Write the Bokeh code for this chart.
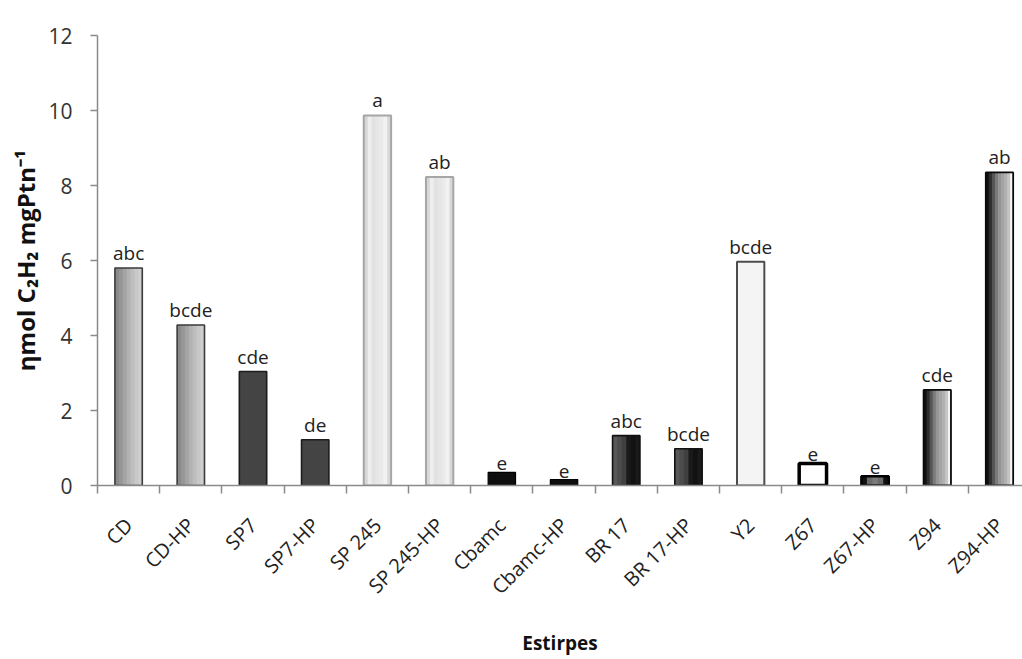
import math
from bokeh.plotting import figure
from bokeh.models import Range1d, FixedTicker, ColumnDataSource
from bokeh.transform import dodge
from bokeh.core.properties import value
from bokeh.embed import file_html
from bokeh.resources import INLINE

# ---- data ----
strains = ["CD", "CD-HP", "SP7", "SP7-HP", "SP 245", "SP 245-HP", "Cbamc", "Cbamc-HP",
           "BR 17", "BR 17-HP", "Y2", "Z67", "Z67-HP", "Z94", "Z94-HP"]
activity = [5.80, 4.28, 3.04, 1.22, 9.87, 8.23, 0.35, 0.16, 1.33, 0.98, 5.97, 0.59, 0.25, 2.55, 8.35]
letters = ["abc", "bcde", "cde", "de", "a", "ab", "e", "e", "abc", "bcde", "bcde", "e", "e", "cde", "ab"]
y_ticks = [0, 2, 4, 6, 8, 10, 12]
y_title = "ηmol C₂H₂ mgPtn⁻¹"
x_title = "Estirpes"

# bar style group for each strain (visual only)
style = ["grad", "grad", "dark", "dark", "light", "light", "black", "black",
         "bevel", "bevel", "pale", "hollow", "pill", "steel", "steel"]

centers = [i + 0.5 for i in range(len(strains))]
bounds = [i for i in range(len(strains))]

FONT = "Open Sans"
BAR_W = 0.44

p = figure(width=1022, height=659, x_range=Range1d(0, 14.87), y_range=Range1d(0, 12),
           output_backend="svg", toolbar_location=None,
           min_border_left=97, min_border_top=35, min_border_bottom=173, min_border_right=0)
p.outline_line_color = None
p.xgrid.visible = False
p.ygrid.visible = False
p.background_fill_color = "white"

def src(kind):
    idx = [i for i, s in enumerate(style) if s == kind]
    return ColumnDataSource(dict(x=[centers[i] for i in idx], top=[activity[i] for i in idx]))

def strips(kind, colors):
    """Layered bars, each one starting further right, all ending at the right edge."""
    s = src(kind)
    n = len(colors)
    w = BAR_W / n
    for k, c in enumerate(colors):
        left = -BAR_W / 2 + k * w
        right = BAR_W / 2
        p.vbar(x=dodge("x", (left + right) / 2, range=p.x_range), top="top",
               bottom=0, width=right - left, source=s, fill_color=c, line_color=None)
    return s

def outline(s, color, lw):
    p.vbar(x="x", top="top", bottom=0, width=BAR_W, source=s, fill_color=None,
           line_color=color, line_width=lw)

# CD: grey gradient, dark left to light right
s = strips("grad", ["#8a8a8a", "#969696", "#a4a4a4", "#b2b2b2", "#bebebe", "#c8c8c8", "#cfcfcf"])
outline(s, "#3a3a3a", 1.6)
# SP7: dark grey
s = strips("dark", ["#444444"])
outline(s, "#1c1c1c", 1.6)
# SP 245: light bevel
s = strips("light", ["#d6d6d6", "#eeeeee", "#e2e2e2", "#e6e6e6", "#eaeaea", "#f2f2f2", "#d8d8d8"])
outline(s, "#a6a6a6", 2)
# Cbamc: black
s = strips("black", ["#0e0e0e"])
outline(s, "#000000", 1.2)
# BR 17: dark grey left, black right
s = strips("bevel", ["#585858", "#4c4c4c", "#404040", "#1a1a1a", "#121212", "#1a1a1a"])
outline(s, "#111111", 1.6)
# Y2: pale
s = strips("pale", ["#f4f4f4"])
outline(s, "#4c4c4c", 2)
# Z67: hollow
s = strips("hollow", ["#ffffff"])
outline(s, "#000000", 3.5)
# Z67-HP
s = strips("pill", ["#101010", "#6a6a6a", "#7a7a7a", "#6a6a6a", "#101010"])
outline(s, "#000000", 2.5)
# Z94: steel gradient, black left to white right
s = strips("steel", ["#111111", "#2e2e2e", "#555555", "#7a7a7a", "#959595", "#a4a4a4",
                     "#b0b0b0", "#c4c4c4", "#f4f4f4"])
outline(s, "#0a0a0a", 1.8)

# letters above bars
lab = ColumnDataSource(dict(x=centers, y=activity, t=letters))
p.text(x="x", y="y", text="t", source=lab, text_align="center", text_baseline="bottom",
       y_offset=-2, text_font=value(FONT), text_font_size="19px", text_color="#222222")

# y axis
ya = p.yaxis[0]
ya.ticker = FixedTicker(ticks=y_ticks, minor_ticks=[])
ya.axis_line_color = "#8a8a8a"
ya.axis_line_width = 1.5
ya.major_tick_line_color = "#8a8a8a"
ya.major_tick_line_width = 1.5
ya.major_tick_out = 7
ya.major_tick_in = 0
ya.minor_tick_line_color = None
ya.major_label_text_font = FONT
ya.major_label_text_font_size = "21px"
ya.major_label_text_color = "#333333"
ya.major_label_standoff = 18
ya.axis_label = y_title
ya.axis_label_text_font = FONT
ya.axis_label_text_font_style = "bold"
ya.axis_label_text_font_size = "24px"
ya.axis_label_text_color = "#111111"
ya.axis_label_standoff = 3

# x axis: labels at centers, tick marks between categories
xa = p.xaxis[0]
xa.ticker = FixedTicker(ticks=centers, minor_ticks=bounds)
xa.major_label_overrides = {c: n for c, n in zip(centers, strains)}
xa.major_label_orientation = math.pi / 4
xa.axis_line_color = "#8a8a8a"
xa.axis_line_width = 1.5
xa.major_tick_line_color = None
xa.major_tick_out = 0
xa.major_tick_in = 0
xa.minor_tick_line_color = "#8a8a8a"
xa.minor_tick_line_width = 1.5
xa.minor_tick_out = 8
xa.minor_tick_in = 0
xa.major_label_text_font = FONT
xa.major_label_text_font_size = "20px"
xa.major_label_text_color = "#222222"
xa.major_label_standoff = 28
xa.axis_label = x_title
xa.axis_label_text_font = FONT
xa.axis_label_text_font_style = "bold"
xa.axis_label_text_font_size = "19px"
xa.axis_label_text_color = "#111111"
xa.axis_label_standoff = 18

open("out.html", "w").write(file_html(p, INLINE))
